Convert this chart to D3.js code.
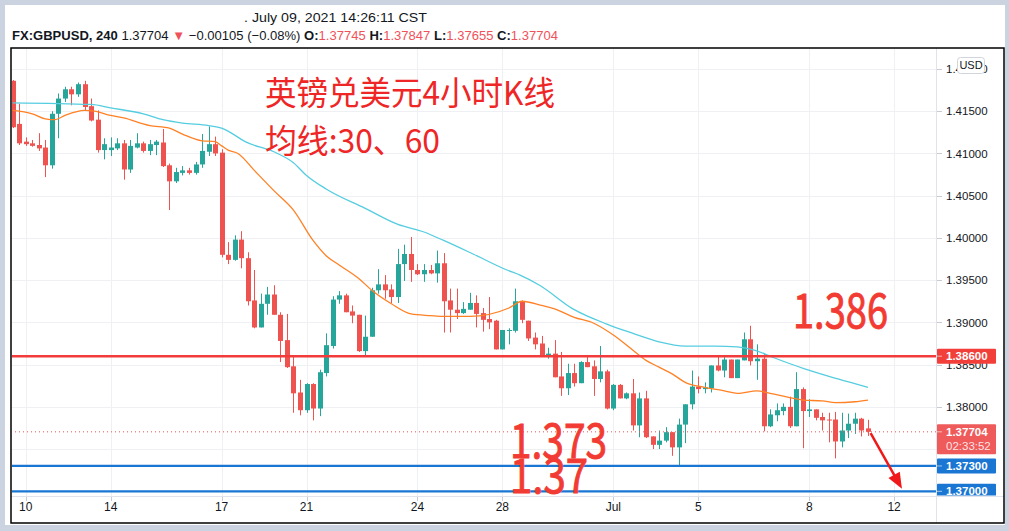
<!DOCTYPE html>
<html><head><meta charset="utf-8">
<script src="https://cdn.jsdelivr.net/npm/d3@7"></script>
<style>
html,body{margin:0;padding:0;background:#cbd3e1;overflow:hidden;}
svg{display:block;}
</style></head><body>
<svg id="c" width="1009" height="531"></svg>
<script>
// ---------- data ----------
const opens=[1.4186,1.4135,1.4114,1.4112,1.4110,1.4107,1.4086,1.4147,1.4165,1.4176,1.4170,1.4182,1.4156,1.4140,1.4104,1.4104,1.4106,1.4112,1.4081,1.4107,
1.4112,1.4103,1.4110,1.4113,1.4086,1.4067,1.4077,1.4080,1.4077,1.4087,1.4102,1.4111,1.4101,1.3980,1.3974,1.3998,1.3976,1.3926,1.3894,1.3922,
1.3933,1.3909,1.3879,1.3848,1.3817,1.3796,1.3827,1.3798,1.3840,1.3872,1.3927,1.3932,1.3913,1.3909,1.3866,1.3883,1.3938,1.3945,1.3939,1.3930,
1.3969,1.3981,1.3962,1.3957,1.3962,1.3958,1.3970,1.3926,1.3915,1.3911,1.3915,1.3923,1.3911,1.3904,1.3902,1.3868,1.3890,1.3890,1.3925,1.3902,
1.3882,1.3875,1.3861,1.3863,1.3836,1.3822,1.3840,1.3828,1.3853,1.3848,1.3833,1.3842,1.3798,1.3826,1.3810,1.3816,1.3778,1.3810,1.3765,1.3755,
1.3760,1.3770,1.3752,1.3779,1.3803,1.3824,1.3821,1.3822,1.3849,1.3843,1.3856,1.3834,1.3855,1.3880,1.3854,1.3857,1.3777,1.3790,1.3795,1.3800,
1.3777,1.3821,1.3795,1.3797,1.3788,1.3785,1.3785,1.3759,1.3772,1.3780,1.3786,1.37745];
const highs=[1.4187,1.4159,1.4119,1.4116,1.4124,1.4116,1.4150,1.4171,1.4179,1.4179,1.4184,1.4186,1.4165,1.4151,1.4118,1.4119,1.4118,1.4116,1.4116,1.4124,
1.4114,1.4116,1.4116,1.4129,1.4088,1.4083,1.4085,1.4083,1.4090,1.4123,1.4132,1.4120,1.4105,1.3995,1.4003,1.4008,1.3983,1.3962,1.3934,1.3942,
1.3944,1.3912,1.3910,1.3861,1.3832,1.3828,1.3828,1.3844,1.3887,1.3931,1.3937,1.3934,1.3920,1.3909,1.3908,1.3941,1.3963,1.3956,1.3945,1.3987,
1.3992,1.4001,1.3969,1.3969,1.3968,1.3985,1.3982,1.3940,1.3940,1.3924,1.3935,1.3932,1.3917,1.3930,1.3903,1.3891,1.3893,1.3940,1.3926,1.3902,
1.3888,1.3884,1.3870,1.3879,1.3865,1.3851,1.3851,1.3854,1.3859,1.3855,1.3872,1.3844,1.3827,1.3827,1.3817,1.3833,1.3817,1.3819,1.3765,1.3772,
1.3776,1.3770,1.3786,1.3803,1.3843,1.3836,1.3829,1.3849,1.3860,1.3860,1.3856,1.3856,1.3888,1.3896,1.3874,1.3863,1.3797,1.3804,1.3804,1.3812,
1.3841,1.3823,1.3809,1.3797,1.3793,1.3793,1.3794,1.3793,1.3792,1.3793,1.3787,1.37847];
const lows=[1.4130,1.4110,1.4109,1.4108,1.4103,1.4072,1.4082,1.4118,1.4161,1.4157,1.4167,1.4151,1.4138,1.4101,1.4093,1.4097,1.4104,1.4069,1.4077,1.4106,
1.4101,1.4098,1.4098,1.4084,1.4033,1.4065,1.4074,1.4075,1.4075,1.4083,1.4097,1.4097,1.3977,1.3969,1.3973,1.3964,1.3920,1.3893,1.3894,1.3909,
1.3909,1.3853,1.3846,1.3793,1.3790,1.3793,1.3784,1.3789,1.3836,1.3869,1.3922,1.3912,1.3899,1.3865,1.3860,1.3883,1.3934,1.3928,1.3923,1.3923,
1.3949,1.3948,1.3956,1.3948,1.3957,1.3947,1.3888,1.3888,1.3904,1.3910,1.3915,1.3894,1.3889,1.3892,1.3868,1.3868,1.3874,1.3888,1.3899,1.3878,
1.3868,1.3860,1.3857,1.3835,1.3813,1.3814,1.3824,1.3828,1.3847,1.3813,1.3829,1.3797,1.3796,1.3810,1.3809,1.3772,1.3764,1.3763,1.3750,1.3750,
1.3758,1.3742,1.3731,1.3757,1.3797,1.3816,1.3816,1.3817,1.3842,1.3835,1.3834,1.3834,1.3855,1.3849,1.3832,1.3771,1.3776,1.3783,1.3790,1.3775,
1.3777,1.3751,1.3788,1.3784,1.3772,1.3758,1.3739,1.3752,1.3763,1.3768,1.3765,1.37655];
const closes=[1.4131,1.4112,1.4111,1.4109,1.4106,1.4086,1.4147,1.4165,1.4176,1.4170,1.4182,1.4155,1.4139,1.4104,1.4111,1.4107,1.4112,1.4081,1.4109,1.4112,
1.4103,1.4111,1.4114,1.4085,1.4067,1.4078,1.4080,1.4077,1.4087,1.4103,1.4111,1.4100,1.3980,1.3974,1.3998,1.3976,1.3925,1.3894,1.3922,1.3933,
1.3909,1.3878,1.3847,1.3816,1.3796,1.3827,1.3798,1.3841,1.3873,1.3927,1.3932,1.3912,1.3908,1.3866,1.3883,1.3938,1.3945,1.3938,1.3930,1.3969,
1.3981,1.3962,1.3957,1.3962,1.3958,1.3970,1.3925,1.3915,1.3911,1.3916,1.3923,1.3910,1.3903,1.3900,1.3868,1.3891,1.3891,1.3925,1.3903,1.3881,
1.3874,1.3861,1.3863,1.3835,1.3822,1.3840,1.3828,1.3853,1.3847,1.3833,1.3842,1.3798,1.3826,1.3810,1.3816,1.3778,1.3810,1.3764,1.3755,1.3760,
1.3770,1.3752,1.3779,1.3803,1.3824,1.3821,1.3823,1.3849,1.3843,1.3856,1.3834,1.3856,1.3880,1.3854,1.3857,1.3777,1.3791,1.3796,1.3800,1.3777,
1.3821,1.3795,1.3797,1.3787,1.3784,1.3784,1.3759,1.3772,1.3780,1.3786,1.3772,1.37704];

// moving averages: [bar index, price]
const ma30=[[0,1.4151],[3,1.4147],[5,1.4141],[6.5,1.4140],[8,1.4145],[11,1.4151],[12.5,1.4150],[15,1.4145],[17,1.4142],[21,1.4133],[24,1.4130],[26,1.4123],
[29,1.4115],[31,1.4114],[32,1.4109],[33,1.4104],[34.5,1.4100],[37,1.4080],[40,1.4056],[43,1.4033],[46,1.3997],[48,1.3979],[50,1.3968],[53,1.3952],
[55,1.3938],[58,1.3922],[61,1.3910],[64,1.3908],[66,1.3907],[70,1.3907],[76,1.3917],[78,1.3925],[81,1.3920],[83,1.3916],[86,1.3906],[89,1.3899],
[92,1.3885],[95,1.3867],[97,1.3855],[99,1.3847],[101,1.3839],[103,1.3829],[106,1.3823],[109,1.3819],[111,1.3816],[114,1.3819],[116,1.3816],
[119,1.3811],[121,1.3808],[124,1.3807],[126,1.3805],[129,1.3806],[131,1.3808]];
const ma60=[[0,1.4160],[12,1.4158],[15,1.4154],[20,1.4147],[23,1.4140],[26,1.4136],[30,1.4133],[32,1.4130],[33.3,1.4125],[35.6,1.4114],[40,1.4102],
[43,1.4089],[45,1.4074],[48,1.4058],[54,1.4035],[59,1.4016],[63,1.4007],[66,1.3997],[70.5,1.3981],[75.7,1.3962],[77.7,1.3956],[80.7,1.3944],
[85.8,1.3916],[91,1.3898],[95,1.3887],[99,1.3877],[103,1.3872],[107.5,1.3872],[111,1.3871],[113.7,1.3867],[116.3,1.3859],[121.3,1.3845],
[126.4,1.3833],[131,1.3823]];

const dateTickIdx=[2,15,32,45,62,75,92,105,122,135];
const dateTickLabels=["10","14","17","21","24","28","Jul","5","8","12"];
const priceTicks=[1.42,1.415,1.41,1.405,1.40,1.395,1.39,1.385,1.38,1.375,1.37];
const resistanceLevels=[1.386];
const supportLevels=[1.373,1.37];
const lastPrice=1.37704;
const countdown="02:33:52";
const arrowFrom=[131.4,1.3769];
const arrowTo=[136.2,1.3703];
const headerLine1=". July 09, 2021 14:26:11 CST";
const headerParts=[["FX:GBPUSD, 240",1,0],[" 1.37704 ",0,0],["▼",0,1],[" −0.00105 (−0.08%) ",0,0],["O:",1,0],["1.37745",0,1],[" H:",1,0],["1.37847",0,1],[" L:",1,0],["1.37655",0,1],[" C:",1,0],["1.37704",0,1]];
const titleLines=["英镑兑美元4小时K线","均线:30、60"];
const bigLabels=["1.386","1.373","1.37"];

// ---------- drawing ----------
const svg=d3.select("#c");
const plot={l:11,r:936,t:48,b:496};
const x=d3.scaleLinear().domain([0,131]).range([12.7,868]);
const y=d3.scaleLinear().domain([1.37,1.42]).range([491.3,69]);
const UP="#26a69a",DOWN="#ef5350";
const RED="#f23b3b",BLUE="#1976d2";
const fontUI="'Liberation Sans',Arial,sans-serif";
const fontCJK="'Noto Sans CJK SC','Noto Sans',sans-serif";

svg.append("rect").attr("x",5).attr("y",5).attr("width",1000).attr("height",520).attr("fill","#fff");

const defs=svg.append("defs");
defs.append("clipPath").attr("id","pc").append("rect")
  .attr("x",plot.l+1).attr("y",plot.t+1).attr("width",plot.r-plot.l-1).attr("height",plot.b-plot.t-1);
defs.append("clipPath").attr("id","ac").append("rect")
  .attr("x",plot.r).attr("y",plot.t+1).attr("width",1004-plot.r).attr("height",plot.b-plot.t-1.5);

// grid
const grid=svg.append("g").attr("clip-path","url(#pc)");
grid.selectAll("line.h").data(priceTicks).join("line")
  .attr("x1",plot.l).attr("x2",plot.r)
  .attr("y1",d=>Math.round(y(d))+0.5).attr("y2",d=>Math.round(y(d))+0.5)
  .attr("stroke","#eef0f4").attr("stroke-width",1);
grid.selectAll("line.v").data(dateTickIdx).join("line")
  .attr("y1",plot.t).attr("y2",plot.b)
  .attr("x1",d=>Math.round(x(d))+0.5).attr("x2",d=>Math.round(x(d))+0.5)
  .attr("stroke","#eef0f4").attr("stroke-width",1);

// candles
const bars=opens.map((o,i)=>({i,o,h:highs[i],l:lows[i],c:closes[i]}));
const cg=svg.append("g").attr("clip-path","url(#pc)");
const bw=5;
cg.selectAll("line.w").data(bars).join("line")
  .attr("x1",d=>Math.round(x(d.i))+0.5).attr("x2",d=>Math.round(x(d.i))+0.5)
  .attr("y1",d=>y(d.h)).attr("y2",d=>y(d.l))
  .attr("stroke",d=>d.c>=d.o?UP:DOWN).attr("stroke-width",1);
cg.selectAll("rect.b").data(bars).join("rect")
  .attr("x",d=>Math.round(x(d.i))-2).attr("width",bw)
  .attr("y",d=>y(Math.max(d.o,d.c)))
  .attr("height",d=>Math.max(1,Math.abs(y(d.o)-y(d.c))))
  .attr("fill",d=>d.c>=d.o?UP:DOWN);

// moving averages
const lineGen=d3.line().x(d=>x(d[0])).y(d=>y(d[1])).curve(d3.curveMonotoneX);
cg.append("path").attr("d",lineGen(ma60)).attr("fill","none").attr("stroke","#55cde0").attr("stroke-width",1.3);
cg.append("path").attr("d",lineGen(ma30)).attr("fill","none").attr("stroke","#ff8125").attr("stroke-width",1.3);

// level lines
cg.append("line").attr("x1",plot.l).attr("x2",plot.r)
  .attr("y1",y(lastPrice)).attr("y2",y(lastPrice))
  .attr("stroke","#ef5350").attr("stroke-width",1).attr("stroke-dasharray","1,3");
cg.selectAll("line.res").data(resistanceLevels).join("line")
  .attr("x1",plot.l).attr("x2",plot.r).attr("y1",d=>y(d)).attr("y2",d=>y(d))
  .attr("stroke",RED).attr("stroke-width",2.5);
cg.selectAll("line.sup").data(supportLevels).join("line")
  .attr("x1",plot.l).attr("x2",plot.r).attr("y1",d=>y(d)).attr("y2",d=>y(d))
  .attr("stroke",BLUE).attr("stroke-width",2.2);

// axis frame lines
svg.append("line").attr("x1",plot.l).attr("x2",1004).attr("y1",plot.b+0.5).attr("y2",plot.b+0.5).attr("stroke","#e0e3eb");
svg.append("line").attr("x1",plot.r+0.5).attr("x2",plot.r+0.5).attr("y1",plot.t).attr("y2",523).attr("stroke","#e0e3eb");

// x axis ticks & labels
svg.selectAll("line.xt").data(dateTickIdx).join("line")
  .attr("x1",d=>Math.round(x(d))+0.5).attr("x2",d=>Math.round(x(d))+0.5)
  .attr("y1",plot.b+1).attr("y2",plot.b+5).attr("stroke","#c8cbd3");
svg.selectAll("text.xl").data(dateTickIdx).join("text")
  .attr("x",d=>x(d)).attr("y",511).attr("text-anchor","middle")
  .attr("font-family",fontUI).attr("font-size",12).attr("fill","#131722")
  .text((d,i)=>dateTickLabels[i]);

// y axis ticks & labels (labels fully covered by a price tag are not visible in the reference)
const tagPrices=[...resistanceLevels,...supportLevels];
const visibleTicks=priceTicks.filter(p=>tagPrices.every(t=>Math.abs(y(t)-y(p))>6) && !(y(p)>y(lastPrice)-8 && y(p)<y(lastPrice)+23));
const ax=svg.append("g").attr("clip-path","url(#ac)");
ax.selectAll("line.yt").data(priceTicks).join("line")
  .attr("x1",plot.r+1).attr("x2",plot.r+6)
  .attr("y1",d=>Math.round(y(d))+0.5).attr("y2",d=>Math.round(y(d))+0.5).attr("stroke","#c8cbd3");
ax.selectAll("text.yl").data(visibleTicks).join("text")
  .attr("x",946).attr("y",d=>y(d)).attr("dy","0.36em")
  .attr("font-family",fontUI).attr("font-size",11.5).attr("fill","#131722")
  .text(d=>d3.format(".5f")(d));

function priceTag(p,fill,lines){
  const h=lines.length>1?30:15;
  const y0=y(p)-7.5;
  ax.append("rect").attr("x",plot.r+1).attr("y",y0).attr("width",59).attr("height",h).attr("rx",1).attr("fill",fill);
  ax.append("line").attr("x1",plot.r+1).attr("x2",plot.r+6).attr("y1",y(p)).attr("y2",y(p)).attr("stroke","#fff").attr("stroke-opacity",0.6);
  lines.forEach((t,k)=>{
    ax.append("text").attr("x",946).attr("y",y(p)+k*14).attr("dy","0.36em")
      .attr("font-family",fontUI).attr("font-size",11.5).attr("font-weight",k==0?"bold":"normal")
      .attr("fill","#fff").attr("fill-opacity",k==0?1:0.85).text(t);
  });
}
resistanceLevels.forEach(p=>priceTag(p,"#f23f3a",[d3.format(".5f")(p)]));
priceTag(lastPrice,"#ef5a5a",[d3.format(".5f")(lastPrice),countdown]);
supportLevels.forEach(p=>priceTag(p,BLUE,[d3.format(".5f")(p)]));

// USD badge
svg.append("rect").attr("x",957.5).attr("y",57.5).attr("width",27).attr("height",16).attr("rx",3)
  .attr("fill","#fff").attr("stroke","#d1d4dc");
svg.append("text").attr("x",971).attr("y",65.5).attr("dy","0.36em").attr("text-anchor","middle")
  .attr("font-family",fontUI).attr("font-size",11).attr("fill","#131722").text("USD");

// border
svg.append("rect").attr("x",11).attr("y",48).attr("width",993).attr("height",475)
  .attr("fill","none").attr("stroke","#000").attr("stroke-width",1.5);

// header
svg.append("text").attr("x",244).attr("y",22).attr("font-family",fontUI)
  .attr("font-size",13).attr("fill","#131722").text(headerLine1)
  .attr("textLength",183).attr("lengthAdjust","spacingAndGlyphs");
const h2=svg.append("text").attr("x",12).attr("y",40).attr("font-family",fontUI).attr("font-size",13).attr("fill","#131722");
headerParts.forEach(([t,b,r])=>{
  h2.append("tspan").attr("font-weight",b?"bold":"normal").attr("fill",r?"#f0525a":"#131722").text(t);
});
h2.attr("textLength",546).attr("lengthAdjust","spacingAndGlyphs");

// annotations
const ann=svg.append("g").attr("fill","#ee2626").attr("font-family",fontCJK);
ann.append("text").attr("x",265).attr("y",105).attr("font-size",33).text(titleLines[0])
  .attr("textLength",290).attr("lengthAdjust","spacingAndGlyphs");
ann.append("text").attr("x",265).attr("y",153).attr("font-size",33).text(titleLines[1])
  .attr("textLength",175).attr("lengthAdjust","spacingAndGlyphs");
const big=svg.append("g").attr("fill","#f23b33").attr("stroke","#f23b33").attr("stroke-width",0.9).attr("font-family",fontCJK);
big.append("text").attr("x",793).attr("y",328).attr("font-size",48).text(bigLabels[0])
  .attr("textLength",95).attr("lengthAdjust","spacingAndGlyphs");
big.append("text").attr("x",510).attr("y",458).attr("font-size",48).text(bigLabels[1])
  .attr("textLength",97).attr("lengthAdjust","spacingAndGlyphs");
big.append("text").attr("x",510).attr("y",493).attr("font-size",48).text(bigLabels[2])
  .attr("textLength",78).attr("lengthAdjust","spacingAndGlyphs");

// arrow
const ax0=x(arrowFrom[0]),ay0=y(arrowFrom[1]),ax1=x(arrowTo[0]),ay1=y(arrowTo[1]);
const len=Math.hypot(ax1-ax0,ay1-ay0),ux=(ax1-ax0)/len,uy=(ay1-ay0)/len;
const hl=16,hw=6.5;
const bx=ax1-ux*hl,by=ay1-uy*hl;
svg.append("line").attr("x1",ax0).attr("y1",ay0).attr("x2",bx+ux*2).attr("y2",by+uy*2)
  .attr("stroke","#f01818").attr("stroke-width",2.5);
svg.append("path").attr("d",`M${ax1},${ay1}L${bx-uy*hw},${by+ux*hw}L${bx+uy*hw},${by-ux*hw}Z`).attr("fill","#f01818");
</script>
</body></html>
